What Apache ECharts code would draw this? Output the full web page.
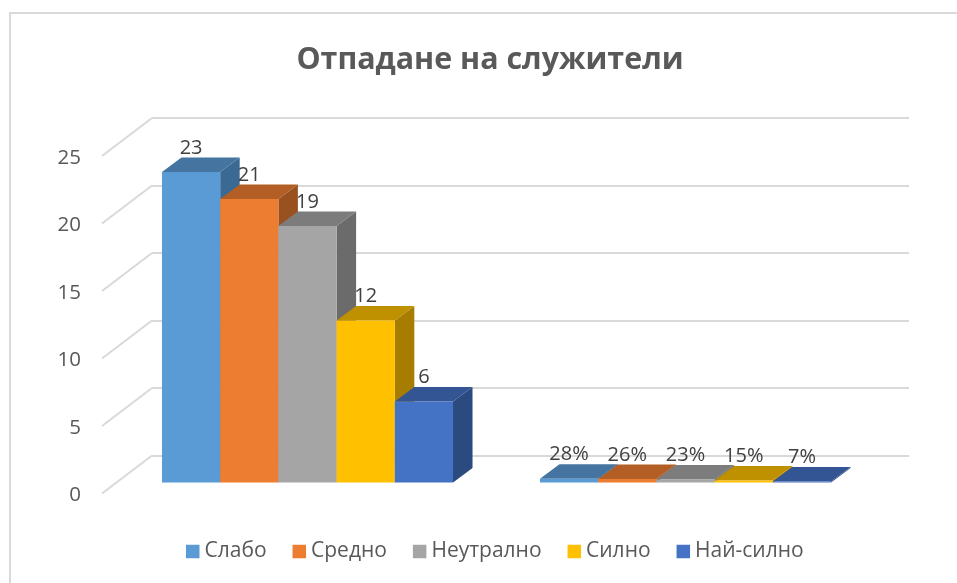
<!DOCTYPE html>
<html>
<head>
<meta charset="utf-8">
<style>
html,body{margin:0;padding:0;background:#fff}
#main{width:957px;height:583px}
</style>
<script src="https://cdn.jsdelivr.net/npm/echarts@6/dist/echarts.min.js"></script>
</head>
<body>
<div id="main"></div>
<script>
var titleText = 'Отпадане на служители';
var categories = ['Брой', 'Процент'];
var seriesNames = ['Слабо', 'Средно', 'Неутрално', 'Силно', 'Най-силно'];
var counts = [23, 21, 19, 12, 6];
var shares = [0.28, 0.26, 0.23, 0.15, 0.07];
var shareLabels = ['28%', '26%', '23%', '15%', '7%'];
var ticks = [0, 5, 10, 15, 20, 25];

// цветове: лице, горна стена, странична стена
var frontColors = ['#5B9BD5', '#ED7D31', '#A5A5A5', '#FFC000', '#4472C4'];
var topColors = ['#44749F', '#B25E25', '#7C7C7C', '#BF9000', '#335593'];
var sideColors = ['#3A6A94', '#9A5120', '#6B6B6B', '#A67D00', '#2A4A80'];

var fontName = '"Open Sans", sans-serif';
var depthX = 19.5, depthY = 14.5;   // дълбочина на колоните
var wallX = 50, wallY = 38;         // изместване на задната стена
var labelDrop = 2;                  // етикетите на скалата са малко под диагоналите
var groupGap = 0.23;

var myChart = echarts.init(document.getElementById('main'));

function renderBar(params, api) {
	var si = params.seriesIndex - 1;
	var band = api.size([1, 0])[0];
	var w = band * (1 - groupGap) / seriesNames.length;
	var top = api.coord([api.value(0), api.value(1)]);
	var base = api.coord([api.value(0), 0]);
	var x = top[0] - band * (1 - groupGap) / 2 + si * w;
	var y = top[1], b = base[1];
	var label = api.value(0) === 0 ? String(counts[si]) : shareLabels[si];
	return {
		type: 'group',
		children: [{
			type: 'polygon',
			shape: { points: [[x + w, y], [x + w + depthX, y - depthY], [x + w + depthX, b - depthY], [x + w, b]] },
			style: { fill: sideColors[si] }
		}, {
			type: 'polygon',
			shape: { points: [[x, y], [x + depthX, y - depthY], [x + w + depthX, y - depthY], [x + w, y]] },
			style: { fill: topColors[si] }
		}, {
			type: 'rect',
			shape: { x: x, y: y, width: w, height: b - y },
			style: { fill: frontColors[si] }
		}, {
			type: 'text',
			z2: 10,
			style: {
				x: x + w / 2,
				y: y - 24,
				text: label,
				fill: '#404040',
				font: '20px ' + fontName,
				textAlign: 'center',
				textVerticalAlign: 'middle'
			}
		}]
	};
}

// диагоналите на страничната стена
function renderWall(params, api) {
	var p = api.coord([0, api.value(0)]);
	var y = p[1] - labelDrop;
	return {
		type: 'line',
		shape: { x1: p[0], y1: y, x2: p[0] + wallX, y2: y - wallY },
		style: { stroke: '#D9D9D9', lineWidth: 2 }
	};
}

var series = [{
	type: 'custom',
	xAxisIndex: 2,
	yAxisIndex: 2,
	silent: true,
	renderItem: renderWall,
	encode: { y: 0 },
	data: ticks.map(function(t) { return [t]; })
}];
seriesNames.forEach(function(name, i) {
	series.push({
		name: name,
		type: 'custom',
		xAxisIndex: 0,
		yAxisIndex: 0,
		itemStyle: { color: frontColors[i] },
		renderItem: renderBar,
		encode: { x: 0, y: 1 },
		data: [[0, counts[i]], [1, shares[i]]]
	});
});

var option = {
	backgroundColor: '#fff',
	animation: false,
	title: {
		text: titleText,
		left: 485,
		top: 40,
		textAlign: 'center',
		textStyle: { color: '#595959', fontFamily: fontName, fontWeight: 'bold', fontSize: 30.4 }
	},
	legend: {
		data: seriesNames,
		left: 186,
		top: 541,
		padding: 0,
		icon: 'rect',
		itemWidth: 13.5,
		itemHeight: 13.5,
		itemGap: 26,
		textStyle: { color: '#595959', fontFamily: fontName, fontSize: 21 }
	},
	grid: [
		{ left: 118.5, top: 145, width: 756, height: 337.5 },  // колони
		{ left: 152, top: 118, width: 757, height: 337.5 },    // задна стена
		{ left: 102, top: 156 + labelDrop, width: 50, height: 337.5 }  // скала отпред
	],
	xAxis: [
		{ gridIndex: 0, type: 'value', min: -0.5, max: 1.5, show: false },
		{ gridIndex: 1, type: 'category', data: categories, show: false },
		{ gridIndex: 2, type: 'value', min: 0, max: 1, show: false }
	],
	yAxis: [
		{ gridIndex: 0, type: 'value', min: 0, max: 25, interval: 5, show: false },
		{
			gridIndex: 1, type: 'value', min: 0, max: 25, interval: 5,
			axisLine: { show: false }, axisTick: { show: false }, axisLabel: { show: false },
			splitLine: { lineStyle: { color: '#D9D9D9', width: 2 } }
		},
		{
			gridIndex: 2, type: 'value', min: 0, max: 25, interval: 5,
			axisLine: { show: false }, axisTick: { show: false }, splitLine: { show: false },
			axisLabel: { color: '#595959', fontFamily: fontName, fontSize: 20.5, margin: 21 }
		}
	],
	graphic: [{
		type: 'polyline',
		silent: true,
		shape: { points: [[10, 583], [10, 13], [957, 13]] },
		style: { fill: null, stroke: '#D9D9D9', lineWidth: 2 }
	}],
	series: series
};
myChart.setOption(option);
</script>
</body>
</html>
